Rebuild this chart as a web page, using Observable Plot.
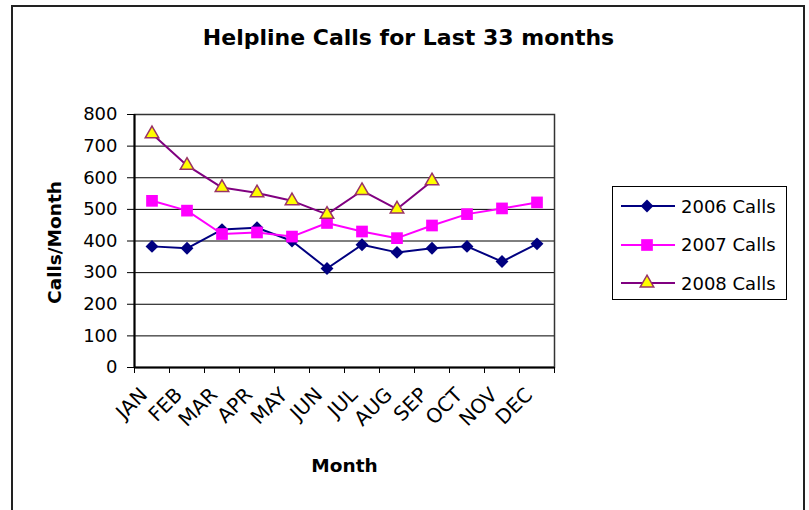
<!DOCTYPE html>
<html>
<head>
<meta charset="utf-8">
<script src="https://cdn.jsdelivr.net/npm/d3@7"></script>
<script src="https://cdn.jsdelivr.net/npm/@observablehq/plot@0.6"></script>
<style>
  html, body { margin: 0; padding: 0; background: white; }
  #wrap { position: relative; width: 809px; height: 510px; overflow: hidden; font-family: "DejaVu Sans", sans-serif; }
  #border { position: absolute; left: 11px; top: 5px; width: 790px; height: 530px; border: 2px solid #222; pointer-events: none; }
  #legend { position: absolute; left: 612px; top: 186px; width: 175px; height: 114px; border: 1px solid #000; background: white; box-sizing: border-box; }
  .item { position: absolute; left: 7px; height: 24px; display: flex; align-items: center; font-size: 18px; color: #000; }
  .item svg { margin-right: 5px; }
</style>
</head>
<body>
<div id="wrap">
  <div id="chart"></div>
  <div id="legend"></div>
  <div id="border"></div>
</div>
<script>
const months = ["JAN","FEB","MAR","APR","MAY","JUN","JUL","AUG","SEP","OCT","NOV","DEC"];
const calls2006 = [383, 377, 436, 442, 400, 313, 388, 364, 377, 383, 335, 391];
const calls2007 = [527, 496, 422, 427, 414, 457, 430, 409, 449, 485, 503, 522];
const calls2008 = [739, 639, 569, 552, 527, 484, 559, 501, 590];
const seriesNames = ["2006 Calls", "2007 Calls", "2008 Calls"];
const seriesValues = [calls2006, calls2007, calls2008];
const yTicks = [0, 100, 200, 300, 400, 500, 600, 700, 800];
const titleText = "Helpline Calls for Last 33 months";
const xLabel = "Month";
const yLabel = "Calls/Month";

const styles = [
  {line: "#000080", fill: "#000080", stroke: "none", symbol: "diamond2", r: 5.8, sw: 0},
  {line: "#FF00FF", fill: "#FF00FF", stroke: "none", symbol: "square", r: 6.6, sw: 0},
  {line: "#800080", fill: "#FFFF00", stroke: "#993366", symbol: "triangle", r: 5.0, sw: 1.5}
];

const rows = seriesValues.map((vals, s) =>
  vals.map((v, i) => ({series: seriesNames[s], month: months[i], pos: i + 0.5, value: v}))
);

const marks = [
  Plot.ruleY(yTicks.slice(1), {stroke: "#000", strokeWidth: 1}),
  Plot.frame({stroke: "#333", strokeWidth: 1.5}),
  Plot.axisY({ticks: yTicks, tickSize: 7, tickPadding: 10, label: null, fontSize: 18, tickFormat: d => String(d)}),
  Plot.axisX({ticks: d3.range(months.length + 1), tickSize: 6, tickFormat: () => "", label: null}),
  Plot.axisX({ticks: months.map((m, i) => i + 0.5), tickSize: 0, tickPadding: 6, tickRotate: -45, fontSize: 20,
              tickFormat: d => months[Math.round(d - 0.5)], label: null, dx: -8, dy: 18}),
  Plot.ruleX([0], {stroke: "#000", strokeWidth: 2}),
  Plot.ruleY([0], {stroke: "#000", strokeWidth: 2})
];

rows.forEach((data, s) => {
  const st = styles[s];
  marks.push(Plot.line(data, {x: "pos", y: "value", stroke: st.line, strokeWidth: 2}));
  marks.push(Plot.dot(data, {x: "pos", y: "value", symbol: () => st.symbol, r: st.r,
    fill: st.fill, stroke: st.stroke, strokeWidth: st.sw}));
});

marks.push(
  Plot.text([titleText], {frameAnchor: "top", lineAnchor: "middle", textAnchor: "middle", dx: 64, dy: -77, fontSize: 22, fontWeight: "bold", text: d => d}),
  Plot.text([xLabel], {frameAnchor: "bottom", lineAnchor: "middle", textAnchor: "middle", dy: 98.5, fontSize: 18.5, fontWeight: "bold", text: d => d}),
  Plot.text([yLabel], {frameAnchor: "left", lineAnchor: "middle", textAnchor: "middle", dx: -79, dy: 1.5, rotate: -90, fontSize: 18.5, fontWeight: "bold", text: d => d})
);

const chart = Plot.plot({
  width: 809,
  height: 510,
  marginLeft: 134,
  marginRight: 255,
  marginTop: 114,
  marginBottom: 143,
  style: {fontFamily: "DejaVu Sans, sans-serif", fontSize: "18px", background: "transparent", color: "#000", overflow: "visible"},
  x: {type: "linear", domain: [0, months.length]},
  y: {domain: [0, 800]},
  symbol: {type: "identity"},
  marks
});
document.getElementById("chart").appendChild(chart);

// legend
const legend = document.getElementById("legend");
seriesNames.forEach((name, s) => {
  const st = styles[s];
  const item = document.createElement("div");
  item.className = "item";
  item.style.top = (7 + s * 38.5) + "px";
  const sym = d3.symbol().type(st.symbol === "diamond2" ? d3.symbolDiamond2 : st.symbol === "square" ? d3.symbolSquare : d3.symbolTriangle)
    .size(Math.PI * st.r * st.r)();
  item.innerHTML = `<svg width="56" height="24" viewBox="0 0 56 24">
    <line x1="1" x2="55" y1="12" y2="12" stroke="${st.line}" stroke-width="2"/>
    <path d="${sym}" transform="translate(27,12)" fill="${st.fill}" stroke="${st.stroke}" stroke-width="${st.sw}"/>
  </svg><span>${name}</span>`;
  legend.appendChild(item);
});
</script>
</body>
</html>
